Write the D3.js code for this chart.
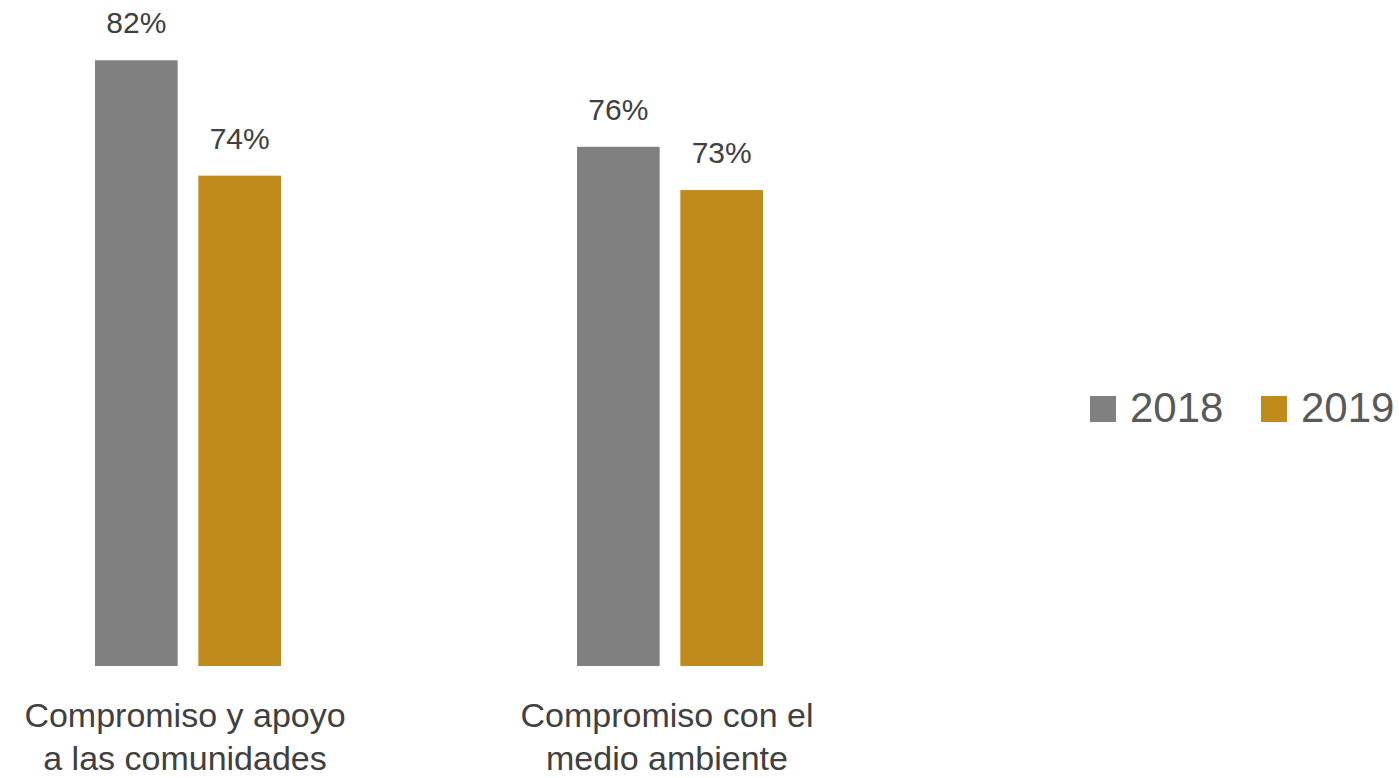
<!DOCTYPE html>
<html>
<head>
<meta charset="utf-8">
<script src="https://cdn.jsdelivr.net/npm/d3@7"></script>
<style>
  html, body { margin: 0; padding: 0; background: #ffffff; }
  svg { display: block; }
</style>
</head>
<body>
<svg id="chart" width="1399" height="778"></svg>
<script>
// ---- data ----
const categories = [
  ["Compromiso y apoyo", "a las comunidades"],
  ["Compromiso con el", "medio ambiente"]
];
const seriesNames = ["2018", "2019"];
const values2018 = [82, 76];
const values2019 = [74, 73];
const seriesColors = ["#808080", "#C08A1C"];

// ---- layout ----
const svg = d3.select("#chart");
const catKeys = categories.map(c => c.join(" "));
const seriesValues = [values2018, values2019];

const x0 = d3.scalePoint().domain(catKeys).range([188, 670]);
const x1 = d3.scaleBand().domain(seriesNames).range([-93, 93]).paddingInner(0.2);
const y = d3.scaleLinear().domain([40, 85]).range([666, 17]);

const rows = [];
catKeys.forEach((k, i) => {
  seriesNames.forEach((s, j) => {
    rows.push({ cat: k, series: s, value: seriesValues[j][i], color: seriesColors[j] });
  });
});

const g = svg.append("g");

g.selectAll("rect.bar").data(rows).join("rect")
  .attr("class", "bar")
  .attr("x", d => x0(d.cat) + x1(d.series))
  .attr("width", x1.bandwidth())
  .attr("y", d => y(d.value))
  .attr("height", d => y(y.domain()[0]) - y(d.value))
  .attr("fill", d => d.color);

g.selectAll("text.val").data(rows).join("text")
  .attr("class", "val")
  .attr("x", d => x0(d.cat) + x1(d.series) + x1.bandwidth() / 2)
  .attr("y", d => y(d.value) - 27)
  .attr("text-anchor", "middle")
  .attr("font-family", "Liberation Sans, Arial, sans-serif")
  .attr("font-size", 30)
  .attr("fill", "#404040")
  .text(d => d.value + "%");

// category labels
const catG = g.selectAll("g.cat").data(categories).join("g")
  .attr("class", "cat")
  .attr("transform", (d, i) => `translate(${x0(catKeys[i]) - 3},0)`);
catG.selectAll("text").data(d => d).join("text")
  .attr("x", 0)
  .attr("y", (d, i) => 727 + i * 43)
  .attr("text-anchor", "middle")
  .attr("font-family", "Liberation Sans, Arial, sans-serif")
  .attr("font-size", 34)
  .attr("fill", "#404040")
  .text(d => d);

// legend
const legendX = d3.scalePoint().domain(seriesNames).range([1090, 1261]);
const leg = svg.append("g").selectAll("g").data(seriesNames).join("g")
  .attr("transform", d => `translate(${legendX(d)},0)`);
leg.append("rect")
  .attr("x", 0).attr("y", 396)
  .attr("width", 26).attr("height", 26)
  .attr("fill", (d, i) => seriesColors[i]);
leg.append("text")
  .attr("x", 40).attr("y", 422)
  .attr("font-family", "Liberation Sans, Arial, sans-serif")
  .attr("font-size", 42)
  .attr("fill", "#595959")
  .text(d => d);
</script>
</body>
</html>
